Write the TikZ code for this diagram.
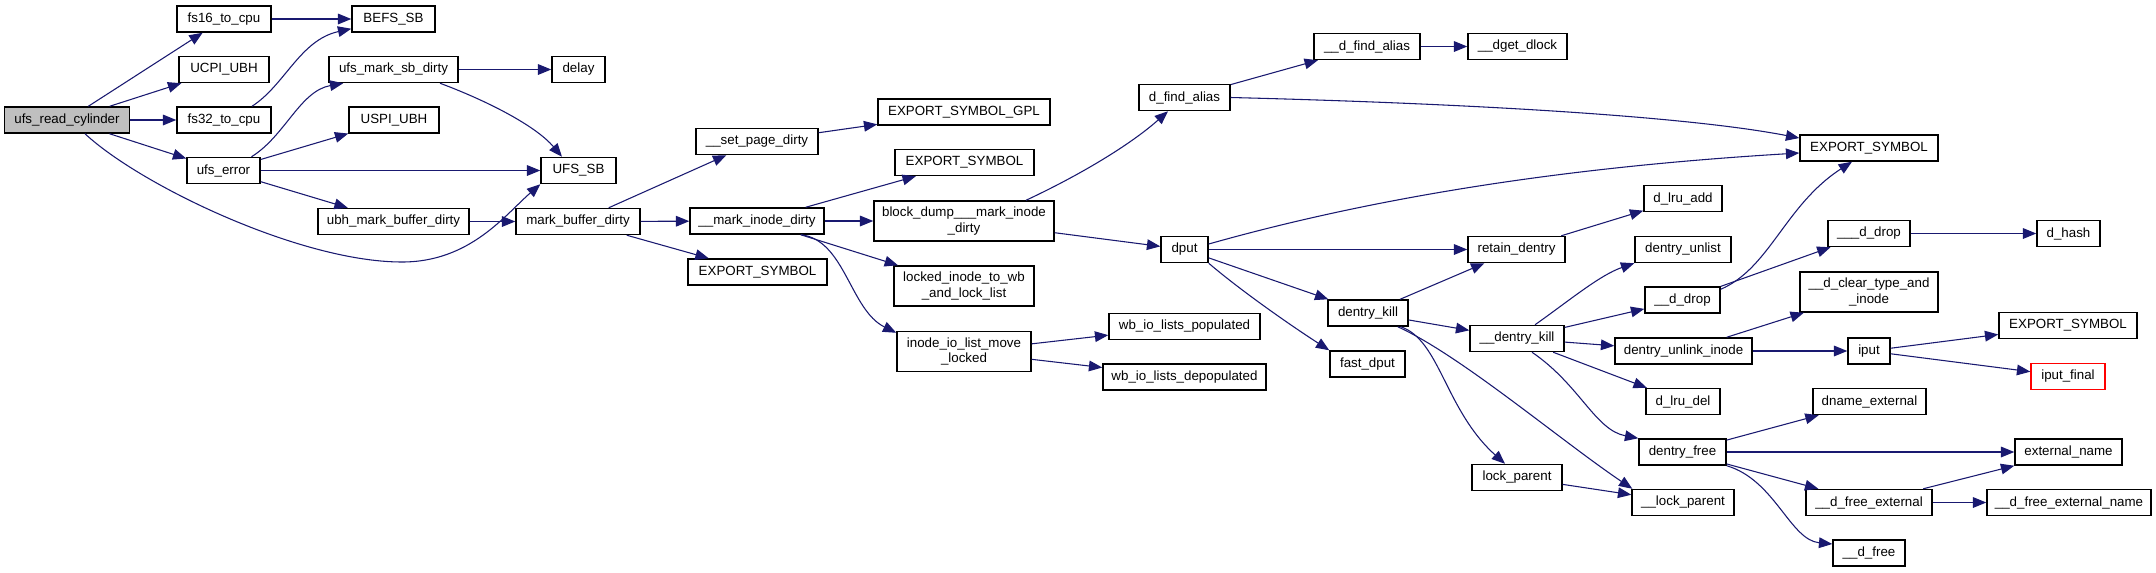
\documentclass[tikz,border=0pt]{standalone}
\usepackage{fontspec}
\setmainfont{Liberation Sans}
\usetikzlibrary{arrows.meta,calc}
\definecolor{edgec}{HTML}{191970}
\definecolor{rootfill}{HTML}{BFBFBF}
\begin{document}
\begin{tikzpicture}[x=0.75pt,y=-0.75pt,
  fn/.style={draw=black,line width=1.1pt,fill=white,rectangle,inner sep=0pt,
    minimum height=19.5pt,font=\fontsize{10}{11.5}\selectfont,align=center,text=black},
  bw/.style={minimum width=#1*0.75pt},
  two/.style={minimum height=30pt},
  edge/.style={draw=edgec,line width=0.8pt,-{Triangle[length=10pt,width=8pt]}}]
\useasboundingbox[fill=white] (0,0) rectangle (2156,572);

% column 1
\node[fn,bw=125,fill=rootfill] (ucr) at (67,120) {ufs\_read\_cylinder};
% column 2
\node[fn,bw=94] (fs16) at (224,19) {fs16\_to\_cpu};
\node[fn,bw=90] (ucpi) at (224,69.5) {UCPI\_UBH};
\node[fn,bw=94] (fs32) at (224,120) {fs32\_to\_cpu};
\node[fn,bw=73] (uerr) at (223.5,170.5) {ufs\_error};
% column 3
\node[fn,bw=83] (befs) at (393.5,19) {BEFS\_SB};
\node[fn,bw=129] (umsd) at (393.5,69.5) {ufs\_mark\_sb\_dirty};
\node[fn,bw=90] (uspi) at (394,120) {USPI\_UBH};
\node[fn,bw=151] (ubh) at (393.5,221.5) {ubh\_mark\_buffer\_dirty};
% column 4
\node[fn,bw=53] (delay) at (578.5,69.5) {delay};
\node[fn,bw=75] (ufssb) at (578.5,170.5) {UFS\_SB};
\node[fn,bw=124] (mbd) at (578,221.5) {mark\_buffer\_dirty};
% column 5
\node[fn,bw=122] (spd) at (757,141.5) {\_\_set\_page\_dirty};
\node[fn,bw=134] (mid) at (757,221) {\_\_mark\_inode\_dirty};
\node[fn,bw=139] (esa) at (757.5,272) {EXPORT\_SYMBOL};
% column 6
\node[fn,bw=172] (esgpl) at (964,112) {EXPORT\_SYMBOL\_GPL};
\node[fn,bw=139] (esb) at (964.5,162.5) {EXPORT\_SYMBOL};
\node[fn,bw=180,two] (bdm) at (964,221) {block\_dump\_\_\_mark\_inode\\\_dirty};
\node[fn,bw=140,two] (litw) at (964,286) {locked\_inode\_to\_wb\\\_and\_lock\_list};
\node[fn,bw=134,two] (iolm) at (964,351.5) {inode\_io\_list\_move\\\_locked};
% column 7
\node[fn,bw=91] (dfa) at (1184.5,97.5) {d\_find\_alias};
\node[fn,bw=47] (dput) at (1184.5,249.5) {dput};
\node[fn,bw=151] (wbp) at (1184.5,326.5) {wb\_io\_lists\_populated};
\node[fn,bw=163] (wbd) at (1184.5,377) {wb\_io\_lists\_depopulated};
% column 8
\node[fn,bw=106] (udfa) at (1367,46.5) {\_\_d\_find\_alias};
\node[fn,bw=80] (dkill) at (1368,313) {dentry\_kill};
\node[fn,bw=75] (fdput) at (1367.5,364) {fast\_dput};
% column 9
\node[fn,bw=99] (dget) at (1517.5,46.5) {\_\_dget\_dlock};
\node[fn,bw=97] (retd) at (1516.5,249.5) {retain\_dentry};
\node[fn,bw=94] (udk) at (1517,338.5) {\_\_dentry\_kill};
\node[fn,bw=90] (lockp) at (1517,477.5) {lock\_parent};
% column 10
\node[fn,bw=78] (dlruadd) at (1683,198.5) {d\_lru\_add};
\node[fn,bw=96] (dunl) at (1683,249.5) {dentry\_unlist};
\node[fn,bw=75] (ddrop) at (1682.5,300) {\_\_d\_drop};
\node[fn,bw=137] (duli) at (1683.5,351) {dentry\_unlink\_inode};
\node[fn,bw=74] (dlrudel) at (1683,401.5) {d\_lru\_del};
\node[fn,bw=87] (dfree) at (1682.5,452) {dentry\_free};
\node[fn,bw=102] (ulockp) at (1683,502.5) {\_\_lock\_parent};
% column 11
\node[fn,bw=138] (esc) at (1869,148) {EXPORT\_SYMBOL};
\node[fn,bw=82] (dddrop) at (1869,233.5) {\_\_\_d\_drop};
\node[fn,bw=138,two] (dcti) at (1869,292) {\_\_d\_clear\_type\_and\\\_inode};
\node[fn,bw=42] (iput) at (1869,351) {iput};
\node[fn,bw=113] (dnext) at (1869.5,401.5) {dname\_external};
\node[fn,bw=126] (udfe) at (1869,502.5) {\_\_d\_free\_external};
\node[fn,bw=72] (udf) at (1869,553) {\_\_d\_free};
% column 12
\node[fn,bw=63] (dhash) at (2068.5,233.5) {d\_hash};
\node[fn,bw=138] (esd) at (2068,325.5) {EXPORT\_SYMBOL};
\node[fn,bw=74,draw=red] (iputf) at (2068,376.5) {iput\_final};
\node[fn,bw=107] (extn) at (2068.5,452) {external\_name};
\node[fn,bw=164] (udfen) at (2069,502.5) {\_\_d\_free\_external\_name};

% edges
\draw[edge] (ucr) -- (fs16);
\draw[edge] (ucr) -- (ucpi);
\draw[edge] (ucr) -- (fs32);
\draw[edge] (ucr) -- (uerr);
\draw[edge] ($(ucr.south)+(18,0)$) .. controls (140,185) and (300,262) .. (402,262)
   .. controls (470,262) and (505,215) .. (ufssb.south west);
\draw[edge] (fs16) -- (befs);
\draw[edge] ($(fs32.north)+(28,0)$) .. controls (285,85) and (300,40) .. ($(befs.south west)+(0,-4)$);
\draw[edge] ($(uerr.north)+(28,0)$) .. controls (285,136) and (300,91) .. ($(umsd.south west)+(15,0)$);
\draw[edge] (uerr) -- (uspi);
\draw[edge] (uerr) -- (ufssb);
\draw[edge] (uerr) -- (ubh);
\draw[edge] (umsd) -- (delay);
\draw[edge] ($(umsd.south)+(46.5,0)$) .. controls (485,100) and (535,125) .. ($(ufssb.north)+(-16.5,0)$);
\draw[edge] (ubh) -- (mbd);
\draw[edge] (mbd) -- (spd);
\draw[edge] (mbd) -- (mid);
\draw[edge] (mbd) -- (esa);
\draw[edge] (spd) -- (esgpl);
\draw[edge] (mid) -- (esb);
\draw[edge] (mid) -- (bdm);
\draw[edge] (mid) -- (litw);
\draw[edge] ($(mid.south)+(44,0)$) .. controls (845,240) and (850,310) .. ($(iolm.north west)+(0,2)$);
\draw[edge] (iolm) -- (wbp);
\draw[edge] (iolm) -- (wbd);
\draw[edge] ($(bdm.north)+(62,0)$) .. controls (1080,175) and (1130,145) .. ($(dfa.south)+(-16.5,0)$);
\draw[edge] (bdm) -- (dput);
\draw[edge] (dfa) -- (udfa);
\draw[edge] (dfa.east) .. controls (1450,103) and (1680,115) .. ($(esc.west)+(0,-10)$);
\draw[edge] (udfa) -- (dget);
\draw[edge] ($(dput.east)+(0,-5.5)$) .. controls (1400,190) and (1600,165) .. ($(esc.west)+(0,5)$);
\draw[edge] (dput) -- (retd);
\draw[edge] (dput) -- (dkill);
\draw[edge] (dput.south east) .. controls (1240,290) and (1290,325) .. (fdput.north west);
\draw[edge] (retd) -- (dlruadd);
\draw[edge] (dkill) -- (retd);
\draw[edge] (dkill) -- (udk);
\draw[edge] ($(dkill.south east)+(-8,0)$) .. controls (1440,340) and (1445,410) .. ($(lockp.north)+(-12,0)$);
\draw[edge] ($(dkill.south east)+(-11,0)$) .. controls (1460,355) and (1560,440) .. ($(ulockp.north west)+(1,0)$);
\draw[edge] (lockp) -- (ulockp);
\draw[edge] ($(udk.north)+(18,0)$) .. controls (1570,300) and (1600,275) .. (dunl.south west);
\draw[edge] (udk) -- (ddrop);
\draw[edge] (udk) -- (duli);
\draw[edge] (udk) -- (dlrudel);
\draw[edge] ($(udk.south)+(15,0)$) .. controls (1580,385) and (1595,430) .. (dfree.north west);
\draw[edge] (ddrop) -- (dddrop);
\draw[edge] ($(ddrop.north east)+(0,3)$) .. controls (1770,268) and (1785,205) .. ($(esc.south)+(-17,0)$);
\draw[edge] (dddrop) -- (dhash);
\draw[edge] (duli) -- (dcti);
\draw[edge] (duli) -- (iput);
\draw[edge] (iput) -- (esd);
\draw[edge] (iput) -- (iputf);
\draw[edge] (dfree) -- (dnext);
\draw[edge] (dfree) -- (extn);
\draw[edge] (dfree) -- (udfe);
\draw[edge] (dfree.south east) .. controls (1775,480) and (1790,540) .. ($(udf.west)+(0,-9)$);
\draw[edge] (udfe) -- (extn);
\draw[edge] (udfe) -- (udfen);
\end{tikzpicture}
\end{document}
